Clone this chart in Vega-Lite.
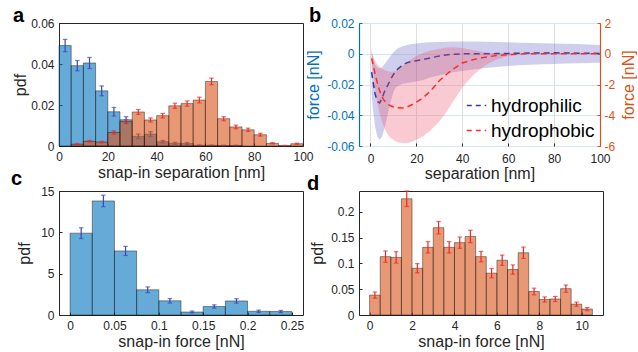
{
  "$schema": "https://vega.github.io/schema/vega-lite/v6.json",
  "autosize": {"type": "pad"},
  "padding": {"left": 10, "top": 5, "right": 0, "bottom": 0},
  "background": "white",
  "config": {
    "font": "Liberation Sans",
    "view": {"stroke": "#262626", "strokeWidth": 1},
    "axis": {"labelFontSize": 12, "titleFontSize": 16, "titleFontWeight": "normal", "labelColor": "#262626", "titleColor": "#262626", "tickColor": "#262626", "tickSize": -3, "labelPadding": 8, "titlePadding": 2, "domain": false, "grid": false, "labelFont": "Liberation Sans", "titleFont": "Liberation Sans", "labelFlush": false, "labelOverlap": false, "labelExpr": "toString(datum.value)"},
    "title": {"fontSize": 20, "fontWeight": "bold", "anchor": "start", "frame": "group", "color": "#000000", "baseline": "alphabetic", "offset": 0, "font": "Liberation Sans"},
    "legend": {"labelFont": "Liberation Sans"}
  },
  "datasets": {
    "sepPhilic": [
      {"x0": 0, "x1": 5, "xc": 2.5, "pdf": 0.049, "lo": 0.046, "hi": 0.052},
      {"x0": 5, "x1": 10, "xc": 7.5, "pdf": 0.0392, "lo": 0.0367, "hi": 0.0417},
      {"x0": 10, "x1": 15, "xc": 12.5, "pdf": 0.0405, "lo": 0.0378, "hi": 0.0432},
      {"x0": 15, "x1": 20, "xc": 17.5, "pdf": 0.0269, "lo": 0.0245, "hi": 0.0293},
      {"x0": 20, "x1": 25, "xc": 22.5, "pdf": 0.0167, "lo": 0.0146, "hi": 0.0188},
      {"x0": 25, "x1": 30, "xc": 27.5, "pdf": 0.0128, "lo": 0.0113, "hi": 0.0143},
      {"x0": 30, "x1": 35, "xc": 32.5, "pdf": 0.0047, "lo": 0.0036, "hi": 0.0058},
      {"x0": 35, "x1": 40, "xc": 37.5, "pdf": 0.0058, "lo": 0.0046, "hi": 0.007},
      {"x0": 40, "x1": 45, "xc": 42.5, "pdf": 0.0021, "lo": 0.0015, "hi": 0.0027},
      {"x0": 45, "x1": 50, "xc": 47.5, "pdf": 0.0013, "lo": 0.0008, "hi": 0.0018},
      {"x0": 50, "x1": 55, "xc": 52.5, "pdf": 0.0012, "lo": 0.0007, "hi": 0.0017},
      {"x0": 55, "x1": 60, "xc": 57.5, "pdf": 0.0003, "lo": 0.0001, "hi": 0.0005},
      {"x0": 60, "x1": 65, "xc": 62.5, "pdf": 0.0003, "lo": 0.0001, "hi": 0.0005},
      {"x0": 65, "x1": 70, "xc": 67.5, "pdf": 0.0002, "lo": 0.0, "hi": 0.0004},
      {"x0": 70, "x1": 75, "xc": 72.5, "pdf": 0.0002, "lo": 0.0, "hi": 0.0004}
    ],
    "sepPhobic": [
      {"x0": 5, "x1": 10, "xc": 7.5, "pdf": 0.0009, "lo": 0.0006, "hi": 0.0012},
      {"x0": 10, "x1": 15, "xc": 12.5, "pdf": 0.0023, "lo": 0.0019, "hi": 0.0027},
      {"x0": 15, "x1": 20, "xc": 17.5, "pdf": 0.0019, "lo": 0.0015, "hi": 0.0023},
      {"x0": 20, "x1": 25, "xc": 22.5, "pdf": 0.0066, "lo": 0.0058, "hi": 0.0074},
      {"x0": 25, "x1": 30, "xc": 27.5, "pdf": 0.0119, "lo": 0.0109, "hi": 0.0129},
      {"x0": 30, "x1": 35, "xc": 32.5, "pdf": 0.0166, "lo": 0.0154, "hi": 0.0178},
      {"x0": 35, "x1": 40, "xc": 37.5, "pdf": 0.0127, "lo": 0.0117, "hi": 0.0137},
      {"x0": 40, "x1": 45, "xc": 42.5, "pdf": 0.0148, "lo": 0.0137, "hi": 0.0159},
      {"x0": 45, "x1": 50, "xc": 47.5, "pdf": 0.0196, "lo": 0.0183, "hi": 0.0209},
      {"x0": 50, "x1": 55, "xc": 52.5, "pdf": 0.0207, "lo": 0.0194, "hi": 0.022},
      {"x0": 55, "x1": 60, "xc": 57.5, "pdf": 0.0224, "lo": 0.021, "hi": 0.0238},
      {"x0": 60, "x1": 65, "xc": 62.5, "pdf": 0.0315, "lo": 0.0299, "hi": 0.0331},
      {"x0": 65, "x1": 70, "xc": 67.5, "pdf": 0.0133, "lo": 0.0123, "hi": 0.0143},
      {"x0": 70, "x1": 75, "xc": 72.5, "pdf": 0.0093, "lo": 0.0084, "hi": 0.0102},
      {"x0": 75, "x1": 80, "xc": 77.5, "pdf": 0.0079, "lo": 0.0071, "hi": 0.0087},
      {"x0": 80, "x1": 85, "xc": 82.5, "pdf": 0.0055, "lo": 0.0048, "hi": 0.0062},
      {"x0": 85, "x1": 90, "xc": 87.5, "pdf": 0.0013, "lo": 0.001, "hi": 0.0016},
      {"x0": 90, "x1": 95, "xc": 92.5, "pdf": 0.0002, "lo": 0.0001, "hi": 0.0003},
      {"x0": 95, "x1": 100, "xc": 97.5, "pdf": 0.0011, "lo": 0.0008, "hi": 0.0014}
    ],
    "forceC": [
      {"x0": 0, "x1": 0.025, "xc": 0.0125, "pdf": 9.9, "lo": 9.25, "hi": 10.55},
      {"x0": 0.025, "x1": 0.05, "xc": 0.0375, "pdf": 13.8, "lo": 13.1, "hi": 14.5},
      {"x0": 0.05, "x1": 0.075, "xc": 0.0625, "pdf": 7.75, "lo": 7.2, "hi": 8.3},
      {"x0": 0.075, "x1": 0.1, "xc": 0.0875, "pdf": 3.05, "lo": 2.7, "hi": 3.4},
      {"x0": 0.1, "x1": 0.125, "xc": 0.1125, "pdf": 1.72, "lo": 1.45, "hi": 1.99},
      {"x0": 0.125, "x1": 0.15, "xc": 0.1375, "pdf": 0.36, "lo": 0.24, "hi": 0.48},
      {"x0": 0.15, "x1": 0.175, "xc": 0.1625, "pdf": 1.03, "lo": 0.83, "hi": 1.23},
      {"x0": 0.175, "x1": 0.2, "xc": 0.1875, "pdf": 1.7, "lo": 1.43, "hi": 1.97},
      {"x0": 0.2, "x1": 0.225, "xc": 0.2125, "pdf": 0.45, "lo": 0.31, "hi": 0.59},
      {"x0": 0.225, "x1": 0.25, "xc": 0.2375, "pdf": 0.42, "lo": 0.29, "hi": 0.55}
    ],
    "forceD": [
      {"x0": 0, "x1": 0.5, "xc": 0.25, "pdf": 0.0385, "lo": 0.0325, "hi": 0.0445},
      {"x0": 0.5, "x1": 1, "xc": 0.75, "pdf": 0.113, "lo": 0.102, "hi": 0.124},
      {"x0": 1, "x1": 1.5, "xc": 1.25, "pdf": 0.1115, "lo": 0.1005, "hi": 0.1225},
      {"x0": 1.5, "x1": 2, "xc": 1.75, "pdf": 0.225, "lo": 0.21, "hi": 0.24},
      {"x0": 2, "x1": 2.5, "xc": 2.25, "pdf": 0.0905, "lo": 0.0815, "hi": 0.0995},
      {"x0": 2.5, "x1": 3, "xc": 2.75, "pdf": 0.131, "lo": 0.12, "hi": 0.142},
      {"x0": 3, "x1": 3.5, "xc": 3.25, "pdf": 0.169, "lo": 0.157, "hi": 0.181},
      {"x0": 3.5, "x1": 4, "xc": 3.75, "pdf": 0.131, "lo": 0.12, "hi": 0.142},
      {"x0": 4, "x1": 4.5, "xc": 4.25, "pdf": 0.14, "lo": 0.129, "hi": 0.151},
      {"x0": 4.5, "x1": 5, "xc": 4.75, "pdf": 0.152, "lo": 0.14, "hi": 0.164},
      {"x0": 5, "x1": 5.5, "xc": 5.25, "pdf": 0.113, "lo": 0.103, "hi": 0.123},
      {"x0": 5.5, "x1": 6, "xc": 5.75, "pdf": 0.081, "lo": 0.072, "hi": 0.09},
      {"x0": 6, "x1": 6.5, "xc": 6.25, "pdf": 0.106, "lo": 0.096, "hi": 0.116},
      {"x0": 6.5, "x1": 7, "xc": 6.75, "pdf": 0.088, "lo": 0.079, "hi": 0.097},
      {"x0": 7, "x1": 7.5, "xc": 7.25, "pdf": 0.1205, "lo": 0.1095, "hi": 0.1315},
      {"x0": 7.5, "x1": 8, "xc": 7.75, "pdf": 0.0455, "lo": 0.039, "hi": 0.052},
      {"x0": 8, "x1": 8.5, "xc": 8.25, "pdf": 0.03, "lo": 0.025, "hi": 0.035},
      {"x0": 8.5, "x1": 9, "xc": 8.75, "pdf": 0.031, "lo": 0.026, "hi": 0.036},
      {"x0": 9, "x1": 9.5, "xc": 9.25, "pdf": 0.051, "lo": 0.044, "hi": 0.058},
      {"x0": 9.5, "x1": 10, "xc": 9.75, "pdf": 0.021, "lo": 0.017, "hi": 0.025},
      {"x0": 10, "x1": 10.5, "xc": 10.25, "pdf": 0.0115, "lo": 0.0085, "hi": 0.0145}
    ],
    "curves": [
      {"s": 0.5, "f1": -0.012, "f1lo": -0.026, "f1hi": 0.003, "f2": -0.3, "f2lo": -0.6, "f2hi": 0.1},
      {"s": 1, "f1": -0.017, "f1lo": -0.035, "f1hi": -0.002, "f2": -0.6, "f2lo": -1.1, "f2hi": -0.1},
      {"s": 2, "f1": -0.026, "f1lo": -0.047, "f1hi": -0.007, "f2": -1.3, "f2lo": -2.2, "f2hi": -0.45},
      {"s": 3, "f1": -0.031, "f1lo": -0.054, "f1hi": -0.009, "f2": -1.9, "f2lo": -3.2, "f2hi": -0.7},
      {"s": 4, "f1": -0.032, "f1lo": -0.056, "f1hi": -0.0095, "f2": -2.4, "f2lo": -3.9, "f2hi": -0.85},
      {"s": 5, "f1": -0.029, "f1lo": -0.054, "f1hi": -0.009, "f2": -2.8, "f2lo": -4.4, "f2hi": -0.97},
      {"s": 6, "f1": -0.025, "f1lo": -0.049, "f1hi": -0.007, "f2": -3.05, "f2lo": -4.8, "f2hi": -1.05},
      {"s": 7, "f1": -0.022, "f1lo": -0.043, "f1hi": -0.005, "f2": -3.2, "f2lo": -5.1, "f2hi": -1.1},
      {"s": 8, "f1": -0.019, "f1lo": -0.036, "f1hi": -0.003, "f2": -3.32, "f2lo": -5.35, "f2hi": -1.15},
      {"s": 9, "f1": -0.016, "f1lo": -0.03, "f1hi": -0.001, "f2": -3.4, "f2lo": -5.5, "f2hi": -1.17},
      {"s": 10, "f1": -0.0135, "f1lo": -0.025, "f1hi": 0.001, "f2": -3.46, "f2lo": -5.6, "f2hi": -1.15},
      {"s": 11, "f1": -0.0115, "f1lo": -0.022, "f1hi": 0.0025, "f2": -3.5, "f2lo": -5.7, "f2hi": -1.1},
      {"s": 12, "f1": -0.0098, "f1lo": -0.021, "f1hi": 0.0035, "f2": -3.52, "f2lo": -5.75, "f2hi": -1.0},
      {"s": 14, "f1": -0.0073, "f1lo": -0.0195, "f1hi": 0.0048, "f2": -3.53, "f2lo": -5.8, "f2hi": -0.8},
      {"s": 16, "f1": -0.0058, "f1lo": -0.019, "f1hi": 0.0057, "f2": -3.46, "f2lo": -5.8, "f2hi": -0.55},
      {"s": 18, "f1": -0.005, "f1lo": -0.0185, "f1hi": 0.0063, "f2": -3.32, "f2lo": -5.72, "f2hi": -0.32},
      {"s": 20, "f1": -0.0045, "f1lo": -0.018, "f1hi": 0.0067, "f2": -3.15, "f2lo": -5.6, "f2hi": -0.15},
      {"s": 23, "f1": -0.0037, "f1lo": -0.017, "f1hi": 0.0071, "f2": -2.85, "f2lo": -5.35, "f2hi": 0.05},
      {"s": 26, "f1": -0.0027, "f1lo": -0.0155, "f1hi": 0.0074, "f2": -2.45, "f2lo": -5.0, "f2hi": 0.2},
      {"s": 30, "f1": -0.0015, "f1lo": -0.014, "f1hi": 0.0076, "f2": -1.75, "f2lo": -4.4, "f2hi": 0.32},
      {"s": 33, "f1": -0.0008, "f1lo": -0.013, "f1hi": 0.0078, "f2": -1.35, "f2lo": -3.8, "f2hi": 0.4},
      {"s": 36, "f1": -0.0003, "f1lo": -0.012, "f1hi": 0.0079, "f2": -1.0, "f2lo": -3.1, "f2hi": 0.42},
      {"s": 40, "f1": 0.0, "f1lo": -0.0112, "f1hi": 0.008, "f2": -0.6, "f2lo": -2.2, "f2hi": 0.38},
      {"s": 45, "f1": 0.0, "f1lo": -0.0102, "f1hi": 0.0079, "f2": -0.38, "f2lo": -1.35, "f2hi": 0.22},
      {"s": 50, "f1": 0.0, "f1lo": -0.0093, "f1hi": 0.0078, "f2": -0.22, "f2lo": -0.75, "f2hi": 0.1},
      {"s": 55, "f1": 0.0001, "f1lo": -0.0086, "f1hi": 0.0076, "f2": -0.12, "f2lo": -0.38, "f2hi": 0.03},
      {"s": 60, "f1": 0.0002, "f1lo": -0.008, "f1hi": 0.0074, "f2": -0.05, "f2lo": -0.15, "f2hi": 0.01},
      {"s": 65, "f1": 0.0003, "f1lo": -0.0075, "f1hi": 0.0072, "f2": -0.02, "f2lo": -0.05, "f2hi": 0.0},
      {"s": 70, "f1": 0.0005, "f1lo": -0.0071, "f1hi": 0.007, "f2": 0.0, "f2lo": -0.01, "f2hi": 0.01},
      {"s": 75, "f1": 0.0005, "f1lo": -0.0068, "f1hi": 0.0068, "f2": 0.0, "f2lo": -0.01, "f2hi": 0.01},
      {"s": 80, "f1": 0.0006, "f1lo": -0.0066, "f1hi": 0.0067, "f2": 0.0, "f2lo": -0.01, "f2hi": 0.01},
      {"s": 85, "f1": 0.0005, "f1lo": -0.0064, "f1hi": 0.0065, "f2": 0.0, "f2lo": -0.01, "f2hi": 0.01},
      {"s": 90, "f1": 0.0004, "f1lo": -0.0062, "f1hi": 0.0063, "f2": 0.0, "f2lo": -0.01, "f2hi": 0.01},
      {"s": 95, "f1": 0.0003, "f1lo": -0.006, "f1hi": 0.006, "f2": 0.0, "f2lo": -0.01, "f2hi": 0.01},
      {"s": 100, "f1": 0.0002, "f1lo": -0.0058, "f1hi": 0.0057, "f2": 0.0, "f2lo": -0.01, "f2hi": 0.01}
    ]
  },
  "resolve": {"scale": {"color": "independent"}, "legend": {"color": "independent"}},
  "bounds": "flush",
  "columns": 2,
  "spacing": {"row": 45, "column": 56},
  "concat": [
    {
      "width": 244, "height": 123,
      "title": {"text": "a", "dx": -46, "dy": 13},
      "layer": [
        {"data": {"name": "sepPhilic"}, "mark": {"type": "bar", "fill": "#0072BD", "fillOpacity": 0.6, "stroke": "#000000", "strokeOpacity": 0.5, "strokeWidth": 0.8},
         "encoding": {
           "x": {"field": "x0", "type": "quantitative", "scale": {"domain": [0, 100], "nice": false, "zero": false}, "axis": {"title": "snap-in separation [nm]", "values": [0, 20, 40, 60, 80, 100], "tickCount": 20}},
           "x2": {"field": "x1"},
           "y": {"field": "pdf", "type": "quantitative", "scale": {"domain": [0, 0.06], "nice": false}, "axis": {"title": "pdf", "values": [0, 0.02, 0.04, 0.06], "tickCount": 20}},
           "y2": {"datum": 0}
         }},
        {"data": {"name": "sepPhilic"}, "mark": {"type": "rule", "color": "#3a48b4", "strokeWidth": 1.2}, "encoding": {"x": {"field": "xc", "type": "quantitative"}, "y": {"field": "lo", "type": "quantitative"}, "y2": {"field": "hi"}}},
        {"data": {"name": "sepPhilic"}, "mark": {"type": "tick", "orient": "horizontal", "color": "#3a48b4", "size": 4.5, "thickness": 1.2}, "encoding": {"x": {"field": "xc", "type": "quantitative"}, "y": {"field": "lo", "type": "quantitative"}}},
        {"data": {"name": "sepPhilic"}, "mark": {"type": "tick", "orient": "horizontal", "color": "#3a48b4", "size": 4.5, "thickness": 1.2}, "encoding": {"x": {"field": "xc", "type": "quantitative"}, "y": {"field": "hi", "type": "quantitative"}}},
        {"data": {"name": "sepPhobic"}, "mark": {"type": "bar", "fill": "#D95319", "fillOpacity": 0.6, "stroke": "#000000", "strokeOpacity": 0.5, "strokeWidth": 0.8},
         "encoding": {"x": {"field": "x0", "type": "quantitative"}, "x2": {"field": "x1"}, "y": {"field": "pdf", "type": "quantitative"}, "y2": {"datum": 0}}},
        {"data": {"name": "sepPhobic"}, "mark": {"type": "rule", "color": "#f02828", "strokeWidth": 1.2}, "encoding": {"x": {"field": "xc", "type": "quantitative"}, "y": {"field": "lo", "type": "quantitative"}, "y2": {"field": "hi"}}},
        {"data": {"name": "sepPhobic"}, "mark": {"type": "tick", "orient": "horizontal", "color": "#f02828", "size": 4.5, "thickness": 1.2}, "encoding": {"x": {"field": "xc", "type": "quantitative"}, "y": {"field": "lo", "type": "quantitative"}}},
        {"data": {"name": "sepPhobic"}, "mark": {"type": "tick", "orient": "horizontal", "color": "#f02828", "size": 4.5, "thickness": 1.2}, "encoding": {"x": {"field": "xc", "type": "quantitative"}, "y": {"field": "hi", "type": "quantitative"}}}
      ]
    },
    {
      "width": 241, "height": 123,
      "title": {"text": "b", "dx": -50, "dy": 13},
      "data": {"name": "curves"},
      "resolve": {"scale": {"y": "independent"}},
      "layer": [
        {
          "layer": [
            {"mark": {"type": "area", "fill": "#6a6ac8", "fillOpacity": 0.32},
             "encoding": {
               "x": {"field": "s", "type": "quantitative", "scale": {"domain": [-5, 100], "nice": false, "zero": false}, "axis": {"title": "separation [nm]", "values": [0, 20, 40, 60, 80, 100], "tickCount": 20, "grid": true, "gridColor": "#dedede", "labelPadding": 10, "titlePadding": 1}},
               "y": {"field": "f1lo", "type": "quantitative", "scale": {"domain": [-0.06, 0.02], "nice": false, "zero": false}, "axis": {"title": "force [nN]", "values": [-0.06, -0.04, -0.02, 0, 0.02], "tickCount": 20, "labelColor": "#0072BD", "titleColor": "#0072BD", "tickColor": "#0072BD", "domain": true, "domainColor": "#0072BD", "domainWidth": 1.2, "grid": true, "gridColor": "#d6e7f4", "titlePadding": 5}},
               "y2": {"field": "f1hi"}
             }},
            {"mark": {"type": "line", "strokeDash": [6, 4], "strokeWidth": 1.5},
             "encoding": {
               "x": {"field": "s", "type": "quantitative"},
               "y": {"field": "f1", "type": "quantitative"},
               "color": {"datum": "hydrophilic", "type": "nominal", "scale": {"domain": ["hydrophilic", "hydrophobic"], "range": ["#2f3a9f", "#ff2b2b"]},
                 "legend": {"orient": "bottom-right", "title": null, "labelFontSize": 19, "labelColor": "#000000", "symbolType": "stroke", "symbolStrokeWidth": 1.5, "symbolSize": 380, "symbolDash": [5, 4], "rowPadding": 4, "offset": 5, "labelOffset": 4, "padding": 0, "labelExpr": "datum.label"}}
             }}
          ]
        },
        {
          "layer": [
            {"mark": {"type": "area", "fill": "#f0506a", "fillOpacity": 0.3},
             "encoding": {
               "x": {"field": "s", "type": "quantitative"},
               "y": {"field": "f2lo", "type": "quantitative", "scale": {"domain": [-6, 2], "nice": false, "zero": false}, "axis": {"orient": "right", "title": "force [nN]", "values": [-6, -4, -2, 0, 2], "tickCount": 20, "labelColor": "#D95319", "titleColor": "#D95319", "tickColor": "#D95319", "domain": true, "domainColor": "#D95319", "domainWidth": 1.2, "titleAngle": 270, "titleBaseline": "top", "titlePadding": 6, "labelPadding": 7}},
               "y2": {"field": "f2hi"}
             }},
            {"mark": {"type": "line", "strokeDash": [6, 4], "strokeWidth": 1.5},
             "encoding": {
               "x": {"field": "s", "type": "quantitative"},
               "y": {"field": "f2", "type": "quantitative"},
               "color": {"datum": "hydrophobic", "type": "nominal"}
             }}
          ]
        }
      ]
    },
    {
      "width": 244, "height": 124,
      "title": {"text": "c", "dx": -48, "dy": 8},
      "data": {"name": "forceC"},
      "layer": [
        {"mark": {"type": "bar", "fill": "#0072BD", "fillOpacity": 0.6, "stroke": "#000000", "strokeOpacity": 0.5, "strokeWidth": 0.8},
         "encoding": {
           "x": {"field": "x0", "type": "quantitative", "scale": {"domain": [-0.0125, 0.2625], "nice": false, "zero": false}, "axis": {"title": "snap-in force [nN]", "values": [0, 0.05, 0.1, 0.15, 0.2, 0.25], "tickCount": 20}},
           "x2": {"field": "x1"},
           "y": {"field": "pdf", "type": "quantitative", "scale": {"domain": [0, 15], "nice": false}, "axis": {"title": "pdf", "values": [0, 5, 10, 15], "tickCount": 20, "titlePadding": 8}},
           "y2": {"datum": 0}
         }},
        {"mark": {"type": "rule", "color": "#3a48b4", "strokeWidth": 1.2}, "encoding": {"x": {"field": "xc", "type": "quantitative"}, "y": {"field": "lo", "type": "quantitative"}, "y2": {"field": "hi"}}},
        {"mark": {"type": "tick", "orient": "horizontal", "color": "#3a48b4", "size": 4.5, "thickness": 1.2}, "encoding": {"x": {"field": "xc", "type": "quantitative"}, "y": {"field": "lo", "type": "quantitative"}}},
        {"mark": {"type": "tick", "orient": "horizontal", "color": "#3a48b4", "size": 4.5, "thickness": 1.2}, "encoding": {"x": {"field": "xc", "type": "quantitative"}, "y": {"field": "hi", "type": "quantitative"}}}
      ]
    },
    {
      "width": 244, "height": 124,
      "title": {"text": "d", "dx": -52, "dy": 8},
      "data": {"name": "forceD"},
      "layer": [
        {"mark": {"type": "bar", "fill": "#D95319", "fillOpacity": 0.6, "stroke": "#000000", "strokeOpacity": 0.5, "strokeWidth": 0.8},
         "encoding": {
           "x": {"field": "x0", "type": "quantitative", "scale": {"domain": [-0.5, 11], "nice": false, "zero": false}, "axis": {"title": "snap-in force [nN]", "values": [0, 2, 4, 6, 8, 10], "tickCount": 20}},
           "x2": {"field": "x1"},
           "y": {"field": "pdf", "type": "quantitative", "scale": {"domain": [0, 0.24], "nice": false}, "axis": {"title": "pdf", "values": [0, 0.05, 0.1, 0.15, 0.2], "tickCount": 20, "titlePadding": 5}},
           "y2": {"datum": 0}
         }},
        {"mark": {"type": "rule", "color": "#f02828", "strokeWidth": 1.2}, "encoding": {"x": {"field": "xc", "type": "quantitative"}, "y": {"field": "lo", "type": "quantitative"}, "y2": {"field": "hi"}}},
        {"mark": {"type": "tick", "orient": "horizontal", "color": "#f02828", "size": 4.5, "thickness": 1.2}, "encoding": {"x": {"field": "xc", "type": "quantitative"}, "y": {"field": "lo", "type": "quantitative"}}},
        {"mark": {"type": "tick", "orient": "horizontal", "color": "#f02828", "size": 4.5, "thickness": 1.2}, "encoding": {"x": {"field": "xc", "type": "quantitative"}, "y": {"field": "hi", "type": "quantitative"}}}
      ]
    }
  ]
}
